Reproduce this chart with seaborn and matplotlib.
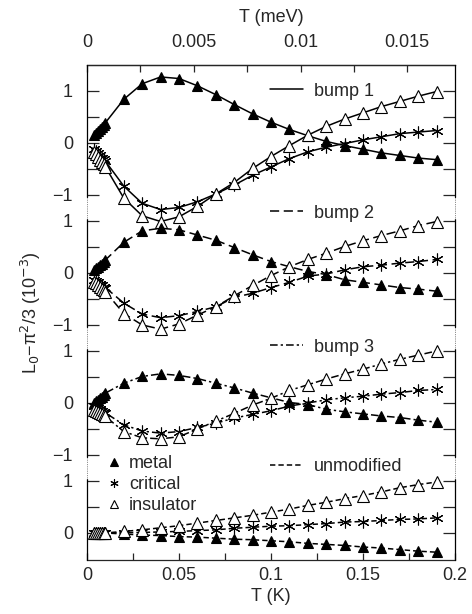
import numpy as np
import pandas as pd
import matplotlib
matplotlib.use("Agg")
import matplotlib.pyplot as plt
import seaborn as sns
from matplotlib.lines import Line2D
from matplotlib.ticker import FixedLocator, MultipleLocator, FuncFormatter

# Temperatur (K)
T = [0.004, 0.005, 0.006, 0.007, 0.008, 0.009, 0.01, 0.02, 0.03, 0.04, 0.05,
     0.06, 0.07, 0.08, 0.09, 0.10, 0.11, 0.12, 0.13, 0.14, 0.15, 0.16, 0.17,
     0.18, 0.19]

# bump 1
metal_b1 = [0.15, 0.19, 0.23, 0.27, 0.31, 0.35, 0.39, 0.84, 1.14, 1.27, 1.24,
            1.10, 0.93, 0.74, 0.56, 0.40, 0.26, 0.14, 0.03, -0.05, -0.12, -0.19,
            -0.24, -0.29, -0.32]
crit_b1 = [-0.12, -0.16, -0.20, -0.24, -0.28, -0.31, -0.35, -0.83, -1.16, -1.28,
           -1.24, -1.13, -0.98, -0.81, -0.62, -0.46, -0.30, -0.17, -0.08, -0.01,
           0.06, 0.12, 0.18, 0.21, 0.24]
ins_b1 = [-0.17, -0.22, -0.27, -0.32, -0.37, -0.41, -0.46, -1.06, -1.40, -1.51,
          -1.42, -1.22, -0.98, -0.76, -0.49, -0.26, -0.05, 0.15, 0.32, 0.46,
          0.58, 0.70, 0.80, 0.90, 0.99]

# bump 2
metal_b2 = [0.06, 0.09, 0.12, 0.15, 0.18, 0.21, 0.25, 0.59, 0.81, 0.86, 0.83,
            0.73, 0.63, 0.49, 0.35, 0.22, 0.12, 0.03, -0.03, -0.13, -0.18, -0.23,
            -0.28, -0.31, -0.35]
crit_b2 = [-0.13, -0.15, -0.18, -0.21, -0.23, -0.26, -0.28, -0.58, -0.79, -0.86,
           -0.82, -0.74, -0.65, -0.47, -0.39, -0.28, -0.18, -0.06, -0.02, 0.06,
           0.12, 0.15, 0.19, 0.22, 0.26]
ins_b2 = [-0.17, -0.20, -0.23, -0.27, -0.30, -0.33, -0.36, -0.78, -1.00, -1.08,
          -0.98, -0.81, -0.65, -0.44, -0.24, -0.05, 0.12, 0.26, 0.38, 0.51, 0.62,
          0.72, 0.81, 0.91, 0.99]

# bump 3
metal_b3 = [0.00, 0.03, 0.06, 0.09, 0.12, 0.16, 0.19, 0.38, 0.51, 0.56, 0.53,
            0.47, 0.38, 0.29, 0.19, 0.10, 0.01, -0.03, -0.12, -0.17, -0.21,
            -0.25, -0.28, -0.33, -0.37]
crit_b3 = [-0.06, -0.08, -0.10, -0.12, -0.15, -0.17, -0.19, -0.42, -0.54, -0.58,
           -0.55, -0.47, -0.39, -0.29, -0.22, -0.15, -0.06, 0.00, 0.06, 0.10,
           0.13, 0.17, 0.20, 0.24, 0.26]
ins_b3 = [-0.13, -0.15, -0.17, -0.19, -0.21, -0.24, -0.26, -0.55, -0.67, -0.69,
          -0.65, -0.50, -0.35, -0.20, -0.04, 0.09, 0.24, 0.35, 0.46, 0.56, 0.65,
          0.75, 0.84, 0.92, 1.00]

# unmodified
metal_un = [0.00, 0.00, 0.00, 0.00, 0.00, 0.00, 0.00, -0.02, -0.04, -0.05,
            -0.07, -0.08, -0.10, -0.12, -0.13, -0.15, -0.17, -0.20, -0.22, -0.24,
            -0.27, -0.29, -0.32, -0.35, -0.37]
crit_un = [0.00, 0.00, 0.00, 0.00, 0.00, 0.00, 0.00, 0.005, 0.01, 0.02, 0.03,
           0.045, 0.06, 0.09, 0.11, 0.13, 0.14, 0.16, 0.18, 0.21, 0.22, 0.24,
           0.26, 0.27, 0.29]
ins_un = [0.00, 0.00, 0.00, 0.00, 0.00, 0.00, 0.00, 0.03, 0.06, 0.10, 0.14,
          0.19, 0.24, 0.29, 0.34, 0.40, 0.46, 0.53, 0.59, 0.66, 0.72, 0.79,
          0.87, 0.93, 0.98]

panels = ["bump 1", "bump 2", "bump 3", "unmodified"]
phases = ["metal", "critical", "insulator"]
werte = {
    "bump 1": [metal_b1, crit_b1, ins_b1],
    "bump 2": [metal_b2, crit_b2, ins_b2],
    "bump 3": [metal_b3, crit_b3, ins_b3],
    "unmodified": [metal_un, crit_un, ins_un],
}

# DataFrame lungo
rows = []
for p in panels:
    for ph, vals in zip(phases, werte[p]):
        for t, v in zip(T, vals):
            rows.append((p, ph, t, v))
df = pd.DataFrame(rows, columns=["panel", "phase", "T", "L"])

# stile
offsets = {"bump 1": 7.5, "bump 2": 5.0, "bump 3": 2.5, "unmodified": 0.0}
linee = {"bump 1": "-", "bump 2": (0, (6, 3)), "bump 3": (0, (5, 2, 1.5, 2)),
         "unmodified": (0, (3.5, 2))}
marker_kw = {
    "metal": dict(marker="^", markersize=7.5, markerfacecolor="k", markeredgewidth=0.8),
    "critical": dict(marker=(6, 2, 0), markersize=8.5, markerfacecolor="k", markeredgewidth=0.8),
    "insulator": dict(marker="^", markersize=8, markerfacecolor="white", markeredgewidth=0.8),
}

sns.set_style("ticks")
plt.rcParams["font.family"] = ["Liberation Sans", "DejaVu Sans"]
plt.rcParams["font.size"] = 13
plt.rcParams["xtick.direction"] = "in"
plt.rcParams["ytick.direction"] = "in"

fig = plt.figure(figsize=(4.72, 6.14), dpi=100)
ax = fig.add_axes([87 / 472, 1 - 560 / 614, 368 / 472, 495 / 614])

df["y"] = df["L"] + df["panel"].map(offsets)
for p in panels:
    for ph in phases:
        sub = df[(df["panel"] == p) & (df["phase"] == ph)]
        sns.lineplot(data=sub, x="T", y="y", ax=ax, color="k", lw=1.1,
                     linestyle=linee[p], markeredgecolor="k", zorder=3,
                     **marker_kw[ph])

ymin, ymax = -0.52, 9.0
ax.set_xlim(0, 0.2)
ax.set_ylim(ymin, ymax)

# bordi sinistra/destra: pieni dentro i pannelli, punteggiati negli spazi
ax.spines["left"].set_visible(False)
ax.spines["right"].set_visible(False)
for s in ["top", "bottom"]:
    ax.spines[s].set_linewidth(0.9)
pieni = [(ymin, 1.03), (1.47, 3.53), (3.97, 6.03), (6.47, ymax)]
vuoti = [(1.03, 1.47), (3.53, 3.97), (6.03, 6.47)]
for xs in (0, 0.2):
    for lo, hi in pieni:
        ax.plot([xs, xs], [lo, hi], color="k", lw=0.9, clip_on=False, zorder=4)
    for lo, hi in vuoti:
        ax.plot([xs, xs], [lo, hi], color="0.4", lw=0.6, ls=(0, (1, 1.2)),
                clip_on=False, zorder=4)
ax.set_xlim(0, 0.2)
ax.set_ylim(ymin, ymax)

# ticks y
major_pos, major_lab, minor_pos = [], [], []
for p in panels:
    o = offsets[p]
    for v in (-1, 0, 1):
        if o + v > ymin:
            major_pos.append(o + v)
            major_lab.append("\u22121" if v < 0 else str(v))
    for v in (-0.5, 0.5):
        if o + v > ymin + 0.05:
            minor_pos.append(o + v)
ax.yaxis.set_major_locator(FixedLocator(major_pos))
ax.set_yticklabels(major_lab)
ax.yaxis.set_minor_locator(FixedLocator(minor_pos))
ax.tick_params(axis="y", which="both", left=True, right=True, length=8.5,
               width=0.9, pad=10)

# ticks x
ax.xaxis.set_major_locator(MultipleLocator(0.05))
ax.xaxis.set_minor_locator(MultipleLocator(0.025))
ax.xaxis.set_major_formatter(FuncFormatter(lambda v, _: "%g" % round(v, 4)))
ax.tick_params(axis="x", which="both", bottom=True, top=False, length=5,
               width=0.9, pad=5)
ax.set_xlabel("T (K)", labelpad=3)
ax.set_ylabel("L$_0$\u2212\u03c0$^2$/3 (10$^{\u22123}$)", labelpad=7)

# asse superiore in meV
kB = 0.08617
top = ax.secondary_xaxis("top", functions=(lambda t: t * kB, lambda e: e / kB))
top.xaxis.set_major_locator(FixedLocator([0, 0.005, 0.01, 0.015]))
top.xaxis.set_minor_locator(MultipleLocator(0.0025))
top.xaxis.set_major_formatter(FuncFormatter(lambda v, _: "%g" % round(v, 5)))
top.tick_params(which="both", direction="in", length=5, width=0.9, pad=10)
top.spines["top"].set_linewidth(0.9)
top.set_xlabel("T (meV)", labelpad=9)

# legende delle curve
posy = {"bump 1": 0.947, "bump 2": 0.701, "bump 3": 0.430, "unmodified": 0.188}
for p in panels:
    h = Line2D([], [], color="k", lw=1.1, linestyle=linee[p])
    leg = ax.legend([h], [p], loc="center left", bbox_to_anchor=(0.497, posy[p]),
                    frameon=False, borderaxespad=0, borderpad=0,
                    handlelength=1.85, handletextpad=0.6, fontsize=13)
    ax.add_artist(leg)

# legenda dei simboli
mh = [Line2D([], [], ls="none", color="k", markeredgecolor="k", **marker_kw[ph])
      for ph in phases]
leg2 = ax.legend(mh, phases, loc="center left", bbox_to_anchor=(0.055, 0.152),
                 frameon=False, borderaxespad=0, borderpad=0, markerscale=0.7,
                 handlelength=0.8, handletextpad=0.4, labelspacing=0.22,
                 fontsize=13)

fig.savefig("out.png", dpi=100)
